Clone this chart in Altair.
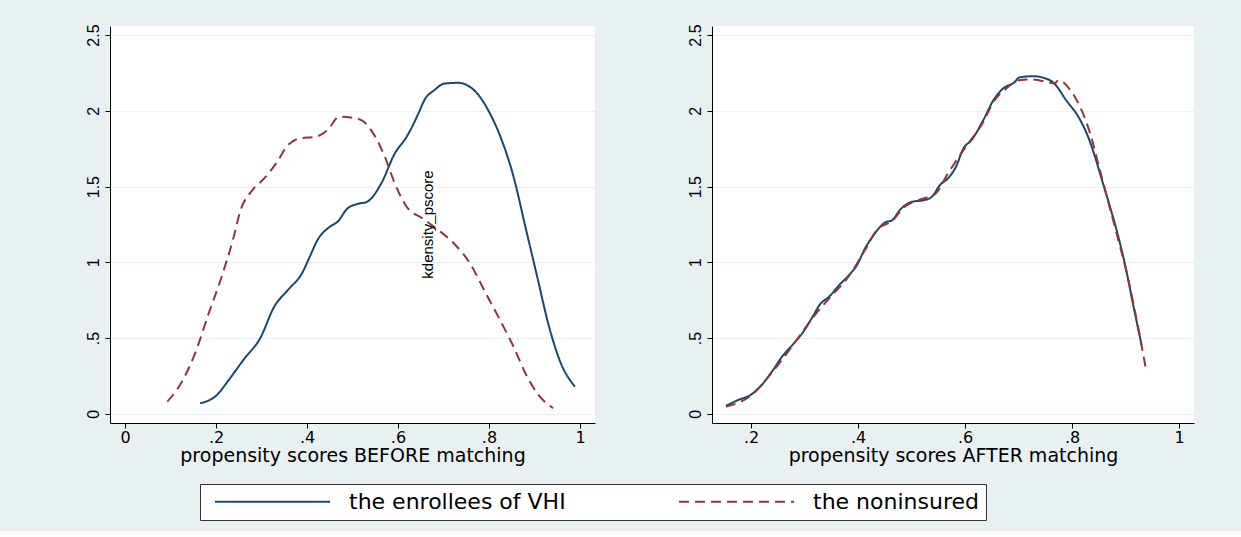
import altair as alt
import pandas as pd

SERIES = ["the enrollees of VHI", "the noninsured"]
COLORS = ["#1a476f", "#90353b"]
BG = "#e8f0f2"

# BEFORE matching
before_vhi_x = [0.165, 0.202, 0.228, 0.263, 0.297, 0.328, 0.358, 0.389, 0.406, 0.423, 0.45, 0.467,
                0.489, 0.51, 0.532, 0.563, 0.593, 0.619, 0.645, 0.658, 0.68, 0.702, 0.732, 0.767,
                0.802, 0.828, 0.854, 0.88, 0.906, 0.932, 0.958, 0.989]
before_vhi_y = [0.07, 0.125, 0.224, 0.367, 0.499, 0.708, 0.818, 0.928, 1.037, 1.147, 1.235, 1.268,
                1.356, 1.385, 1.40, 1.52, 1.719, 1.829, 1.983, 2.071, 2.137, 2.18, 2.185, 2.137,
                1.983, 1.807, 1.565, 1.235, 0.905, 0.576, 0.334, 0.18]
before_non_x = [0.093, 0.123, 0.154, 0.184, 0.21, 0.237, 0.254, 0.28, 0.306, 0.332, 0.358, 0.384,
                0.419, 0.445, 0.471, 0.515, 0.55, 0.571, 0.593, 0.619, 0.654, 0.689, 0.723, 0.758,
                0.793, 0.828, 0.854, 0.88, 0.906, 0.941]
before_non_y = [0.081, 0.202, 0.40, 0.664, 0.884, 1.147, 1.345, 1.477, 1.554, 1.653, 1.774, 1.818,
                1.829, 1.873, 1.961, 1.944, 1.829, 1.697, 1.521, 1.367, 1.29, 1.213, 1.125, 0.994,
                0.796, 0.598, 0.444, 0.268, 0.136, 0.037]

# AFTER matching
after_vhi_x = [0.153, 0.176, 0.199, 0.217, 0.239, 0.258, 0.28, 0.298, 0.317, 0.328, 0.346, 0.365,
               0.383, 0.398, 0.413, 0.427, 0.45, 0.464, 0.479, 0.501, 0.524, 0.538, 0.553, 0.568,
               0.583, 0.597, 0.612, 0.634, 0.653, 0.671, 0.693, 0.701, 0.727, 0.745, 0.767, 0.789,
               0.812, 0.83, 0.841, 0.856, 0.871, 0.885, 0.9, 0.915, 0.93]
after_vhi_y = [0.053, 0.092, 0.125, 0.18, 0.279, 0.378, 0.466, 0.543, 0.653, 0.719, 0.774, 0.851,
               0.916, 0.982, 1.092, 1.169, 1.262, 1.279, 1.349, 1.40, 1.411, 1.433, 1.51, 1.554,
               1.631, 1.752, 1.807, 1.938, 2.07, 2.147, 2.191, 2.22, 2.229, 2.22, 2.18, 2.07,
               1.96, 1.829, 1.719, 1.543, 1.367, 1.191, 0.971, 0.708, 0.455]
after_non_x = [0.153, 0.199, 0.239, 0.28, 0.317, 0.346, 0.383, 0.413, 0.435, 0.464, 0.487, 0.516,
               0.545, 0.568, 0.597, 0.634, 0.653, 0.675, 0.701, 0.723, 0.753, 0.767, 0.775, 0.797,
               0.815, 0.834, 0.852, 0.871, 0.885, 0.904, 0.922, 0.939]
after_non_y = [0.048, 0.119, 0.273, 0.462, 0.642, 0.763, 0.91, 1.081, 1.213, 1.275, 1.367, 1.415,
               1.455, 1.587, 1.741, 1.927, 2.059, 2.141, 2.202, 2.207, 2.191, 2.18, 2.202, 2.136,
               2.026, 1.85, 1.609, 1.356, 1.169, 0.905, 0.598, 0.279]

Y_TICKS = [0, 0.5, 1, 1.5, 2, 2.5]
X_TICKS_BEFORE = [0, 0.2, 0.4, 0.6, 0.8, 1]
X_TICKS_AFTER = [0.2, 0.4, 0.6, 0.8, 1]
TITLE_BEFORE = "propensity scores BEFORE matching"
TITLE_AFTER = "propensity scores AFTER matching"
STRAY_LABEL = "kdensity_pscore"


def frame(xs, ys, series):
    return pd.DataFrame({"x": xs, "y": ys, "series": series})


df_before = pd.concat([frame(before_vhi_x, before_vhi_y, SERIES[0]),
                       frame(before_non_x, before_non_y, SERIES[1])], ignore_index=True)
df_after = pd.concat([frame(after_vhi_x, after_vhi_y, SERIES[0]),
                      frame(after_non_x, after_non_y, SERIES[1])], ignore_index=True)

LABEL_EXPR = ("datum.value > 0 && datum.value < 1 ? slice(format(datum.value, '~g'), 1) "
              ": format(datum.value, '~g')")

y_axis = alt.Axis(values=Y_TICKS, labelExpr=LABEL_EXPR, labelAngle=270, labelAlign="center",
                  labelBaseline="bottom", labelFont="Liberation Sans", labelFontSize=16,
                  labelColor="black", tickSize=5, tickColor="black", domainColor="black",
                  labelPadding=4, grid=True, gridColor=BG, gridWidth=1.2, title=None,
                  minExtent=30, maxExtent=30)


def x_axis(ticks, title):
    return alt.Axis(values=ticks, labelExpr=LABEL_EXPR, labelAngle=0, labelFont="DejaVu Sans",
                    labelFontSize=16, labelColor="black", tickSize=5, tickColor="black",
                    domainColor="black", labelPadding=1, grid=False, title=title,
                    titleFont="DejaVu Sans", titleFontSize=19, titleFontWeight="normal",
                    titleColor="black", titlePadding=1)


LEGEND_X, LEGEND_Y = 90, 458
color = alt.Color("series:N", scale=alt.Scale(domain=SERIES, range=COLORS),
                  legend=alt.Legend(orient="none", legendX=LEGEND_X, legendY=LEGEND_Y,
                                    direction="horizontal", title=None, symbolType="stroke",
                                    symbolSize=13225, symbolStrokeWidth=2, clipHeight=21,
                                    symbolOffset=7, labelFont="DejaVu Sans", labelFontSize=22,
                                    labelColor="black", labelOffset=18, columnPadding=105,
                                    padding=7, strokeColor="#333333", fillColor="white",
                                    labelLimit=400))
dash = alt.StrokeDash("series:N", scale=alt.Scale(domain=SERIES, range=[[1, 0], [10, 6]]),
                      legend=alt.Legend(orient="none", legendX=LEGEND_X, legendY=LEGEND_Y,
                                        direction="horizontal", title=None))


def panel(df, domain, ticks, title, width):
    base = alt.Chart(df).mark_line(strokeWidth=2, clip=True, interpolate="monotone").encode(
        x=alt.X("x:Q", scale=alt.Scale(domain=domain, nice=False, zero=False),
                axis=x_axis(ticks, title)),
        y=alt.Y("y:Q", scale=alt.Scale(domain=[-0.06, 2.56], nice=False, zero=False),
                axis=y_axis),
        color=color,
        strokeDash=dash,
        order="order:Q",
    ).transform_window(order="row_number()", groupby=["series"])
    return base.properties(width=width, height=397)


left_lines = panel(df_before, [-0.033, 1.033], X_TICKS_BEFORE, TITLE_BEFORE, 485)
stray = alt.Chart(pd.DataFrame({"x": [0.666], "y": [1.25], "t": [STRAY_LABEL]})).mark_text(
    angle=270, font="Liberation Sans", fontSize=15, color="black", align="center",
    baseline="middle").encode(x="x:Q", y="y:Q", text="t:N")
left = alt.layer(left_lines, stray).properties(width=485, height=397)
right = panel(df_after, [0.127, 1.028], X_TICKS_AFTER, TITLE_AFTER, 482)

chart = alt.hconcat(left, right, spacing=87).properties(
    background=BG,
    padding={"left": 80, "top": 23, "right": 47, "bottom": 10},
).configure_view(fill="white", stroke=None)

chart.save("out.html", embed_options={"renderer": "svg", "actions": False})
